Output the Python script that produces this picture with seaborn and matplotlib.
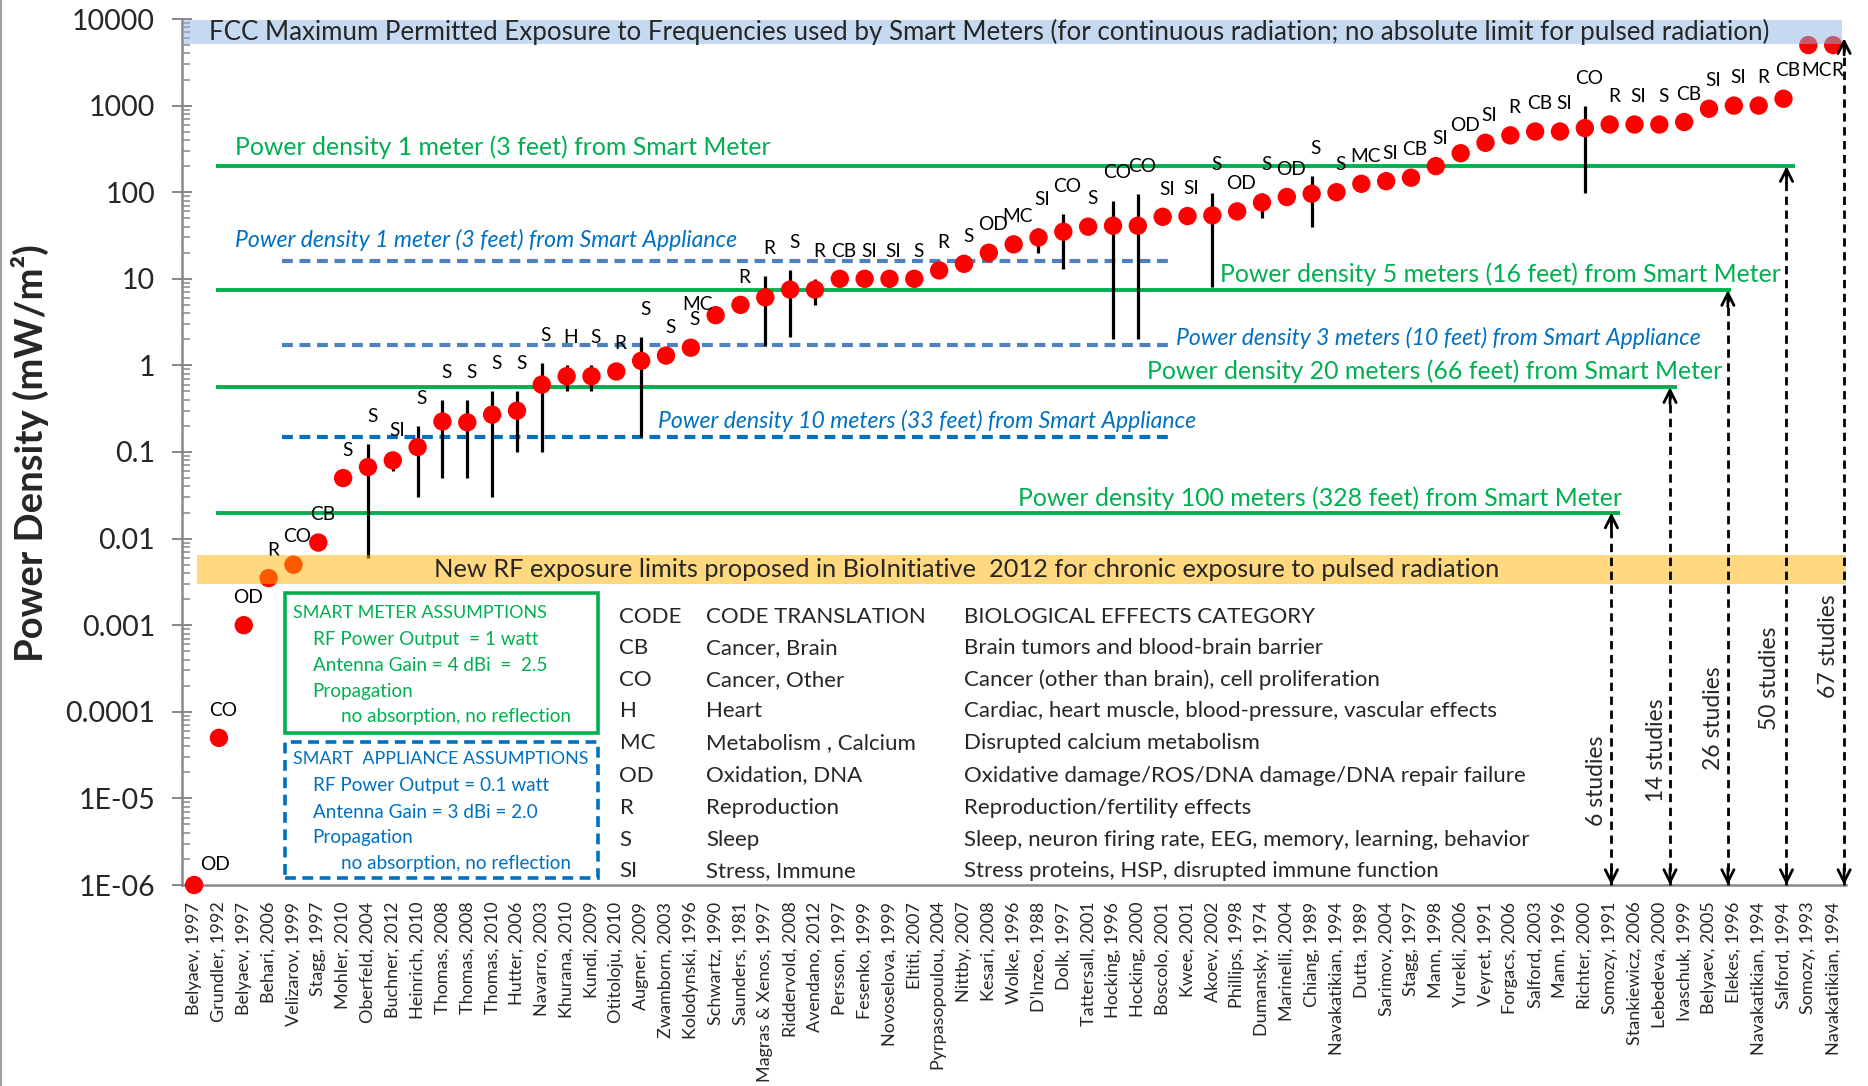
import numpy as np
import pandas as pd
import matplotlib
matplotlib.use("Agg")
import matplotlib.pyplot as plt
import seaborn as sns
from matplotlib.lines import Line2D
from matplotlib.patches import Rectangle
from matplotlib.ticker import FixedLocator, FixedFormatter, LogLocator, NullFormatter

# ---------------- data ----------------
studies = ["Belyaev, 1997", "Grundler, 1992", "Belyaev, 1997", "Behari, 2006", "Velizarov, 1999",
           "Stagg, 1997", "Mohler, 2010", "Oberfeld, 2004", "Buchner, 2012", "Heinrich, 2010",
           "Thomas, 2008", "Thomas, 2008", "Thomas, 2010", "Hutter, 2006", "Navarro, 2003",
           "Khurana, 2010", "Kundi, 2009", "Otitoloju, 2010", "Augner, 2009", "Zwamborn, 2003",
           "Kolodynski, 1996", "Schwartz, 1990", "Saunders, 1981", "Magras & Xenos, 1997",
           "Riddervold, 2008", "Avendano, 2012", "Persson, 1997", "Fesenko, 1999",
           "Novoselova, 1999", "Eltiti, 2007", "Pyrpasopoulou, 2004", "Nittby, 2007",
           "Kesari, 2008", "Wolke, 1996", "D'Inzeo, 1988", "Dolk, 1997", "Tattersall, 2001",
           "Hocking, 1996", "Hocking, 2000", "Boscolo, 2001", "Kwee, 2001", "Akoev, 2002",
           "Phillips, 1998", "Dumansky, 1974", "Marinelli, 2004", "Chiang, 1989",
           "Navakatikian, 1994", "Dutta, 1989", "Sarimov, 2004", "Stagg, 1997", "Mann, 1998",
           "Yurekli, 2006", "Veyret, 1991", "Forgacs, 2006", "Salford, 2003", "Mann, 1996",
           "Richter, 2000", "Somozy, 1991", "Stankiewicz, 2006", "Lebedeva, 2000",
           "Ivaschuk, 1999", "Belyaev, 2005", "Elekes, 1996", "Navakatikian, 1994",
           "Salford, 1994", "Somozy, 1993", "Navakatikian, 1994"]

codes = ["OD", "CO", "OD", "R", "CO", "CB", "S", "S", "SI", "S",
         "S", "S", "S", "S", "S", "H", "S", "R", "S", "S",
         "S", "MC", "R", "R", "S", "R", "CB", "SI", "SI", "S",
         "R", "S", "OD", "MC", "SI", "CO", "S", "CO", "CO", "SI",
         "SI", "S", "OD", "S", "OD", "S", "S", "MC", "SI", "CB",
         "SI", "OD", "SI", "R", "CB", "SI", "CO", "R", "SI", "S",
         "CB", "SI", "SI", "R", "CB", "MC", "R"]

power_density = [1e-6, 5e-5, 0.001, 0.0035, 0.005, 0.009, 0.05, 0.067, 0.08, 0.114,
                 0.225, 0.22, 0.27, 0.30, 0.6, 0.75, 0.75, 0.85, 1.13, 1.3,
                 1.6, 3.8, 5.0, 6.1, 7.5, 7.5, 10, 10, 10, 10,
                 12.5, 14.9, 20, 25, 30, 35, 40, 41, 41, 52,
                 53, 54, 60, 76, 88, 96, 100, 125, 134, 147,
                 200, 282, 372, 453, 502, 502, 550, 605, 605, 605,
                 646, 920, 1000, 1000, 1200, 5000, 5000]

bar_index = [7, 8, 9, 10, 11, 12, 13, 14, 15, 16, 18, 23, 24, 25, 34, 35, 37, 38, 41, 43, 45, 56]
bar_low = [0.006, 0.06, 0.03, 0.05, 0.05, 0.03, 0.1, 0.1, 0.5, 0.5, 0.15, 1.67, 2.1, 5.0,
           20, 13, 2.0, 2.0, 8, 51, 40, 98]
bar_high = [0.124, 0.085, 0.2, 0.4, 0.4, 0.5, 0.5, 1.07, 1.0, 1.0, 2.1, 10.7, 12.7, 10,
            39, 56, 80, 95, 99, 99, 152, 980]

meter_levels = [200, 7.4, 0.56, 0.02]
meter_labels = ["Power density 1 meter (3 feet) from Smart Meter",
                "Power density 5 meters (16 feet) from Smart Meter",
                "Power density 20 meters (66 feet) from Smart Meter",
                "Power density 100 meters (328 feet) from Smart Meter"]
appliance_levels = [16, 1.7, 0.15]
appliance_labels = ["Power density 1 meter (3 feet) from Smart Appliance",
                    "Power density 3 meters (10 feet) from Smart Appliance",
                    "Power density 10 meters (33 feet) from Smart Appliance"]

arrow_tops = [0.02, 0.56, 7.4, 200, 6000]
arrow_labels = ["6 studies", "14 studies", "26 studies", "50 studies", "67 studies"]

fcc_band = [5190, 9640]
bio_band = [0.0030, 0.0064]

ytick_values = [1e-6, 1e-5, 1e-4, 1e-3, 1e-2, 1e-1, 1, 10, 100, 1000, 10000]
ytick_labels = ["1E-06", "1E-05", "0.0001", "0.001", "0.01", "0.1", "1", "10", "100", "1000", "10000"]

table_codes = ["CODE", "CB", "CO", "H", "MC", "OD", "R", "S", "SI"]
table_translation = ["CODE TRANSLATION", "Cancer, Brain", "Cancer, Other", "Heart",
                     "Metabolism , Calcium", "Oxidation, DNA", "Reproduction", "Sleep",
                     "Stress, Immune"]
table_effects = ["BIOLOGICAL EFFECTS CATEGORY",
                 "Brain tumors and blood-brain barrier",
                 "Cancer (other than brain), cell proliferation",
                 "Cardiac, heart muscle, blood-pressure, vascular effects",
                 "Disrupted calcium metabolism",
                 "Oxidative damage/ROS/DNA damage/DNA repair failure",
                 "Reproduction/fertility effects",
                 "Sleep, neuron firing rate, EEG, memory, learning, behavior",
                 "Stress proteins, HSP, disrupted immune function"]

meter_box = ["SMART METER ASSUMPTIONS", "RF Power Output  = 1 watt",
             "Antenna Gain = 4 dBi  =  2.5", "Propagation", "no absorption, no reflection"]
appliance_box = ["SMART  APPLIANCE ASSUMPTIONS", "RF Power Output = 0.1 watt",
                 "Antenna Gain = 3 dBi = 2.0", "Propagation", "no absorption, no reflection"]

# ---------------- style ----------------
sns.set_style("white")
plt.rcParams['font.family'] = ['Lato', 'DejaVu Sans']

GREEN = "#00b050"
BLUE = "#0070c0"
BLUE2 = "#4f81bd"
GRAY = "#888888"

W, H, DPI = 1868, 1086, 100
fig = plt.figure(figsize=(W / DPI, H / DPI), dpi=DPI)
ax = fig.add_axes([181.7 / W, 1 - 885 / H, (1845.6 - 181.7) / W, (885 - 19) / H])


def fx(px):
    return px / W


def fy(py):
    return 1 - py / H


df = pd.DataFrame({"idx": np.arange(len(studies)), "pd": power_density, "code": codes})

ax.set_yscale("log")
ax.set_ylim(1e-6, 1e4)
ax.set_xlim(-0.5, 66.5)

# error bars
ax.vlines(bar_index, bar_low, bar_high, color="black", lw=2.3, zorder=3)

# dots
sns.scatterplot(data=df, x="idx", y="pd", color="red", s=175, edgecolor="none",
                ax=ax, zorder=4, clip_on=False, legend=False)

# code labels
top_of = dict(zip(range(len(studies)), power_density))
for i, hi in zip(bar_index, bar_high):
    top_of[i] = max(top_of[i], hi)
special = {0: (15, 15), 21: (-13, 8), 65: (6, -18), 66: (3, -18)}
for i, c in enumerate(codes):
    dx, dy = special.get(i, (3, 20))
    ax.annotate(c, (i, top_of[i]), xytext=(dx, dy), textcoords="offset points",
                ha="center", va="center", fontsize=13.8, color="black", zorder=4,
                annotation_clip=False)

# reference lines: smart meter (green solid)
meter_x0 = 0.9
meter_x1 = [64.45, 61.9, 59.7, 57.4]
for lvl, x1 in zip(meter_levels, meter_x1):
    ax.hlines(lvl, meter_x0, x1, color=GREEN, lw=2.8, zorder=2)

# smart appliance (blue dashed)
app_x0 = 3.55
app_x1 = [39.2, 39.2, 39.4]
app_col = [BLUE2, BLUE2, BLUE]
for lvl, x1, col in zip(appliance_levels, app_x1, app_col):
    ax.hlines(lvl, app_x0, x1, color=col, lw=3.0, linestyles=(0, (2.6, 1.6)), zorder=2)

# bands (translucent, on top of dots)
ax.fill_between([-0.45, 66.35], fcc_band[0], fcc_band[1], color="#8db4e2", alpha=0.5,
                lw=0, zorder=5)
ax.fill_between([0.12, 66.5], bio_band[0], bio_band[1], color="#ffb300", alpha=0.5,
                lw=0, zorder=5)
ax.text(32.0, np.sqrt(fcc_band[0] * fcc_band[1]),
        "FCC Maximum Permitted Exposure to Frequencies used by Smart Meters (for continuous radiation; no absolute limit for pulsed radiation)",
        ha="center", va="center", fontsize=18.6, zorder=6)
ax.text(31.1, np.sqrt(bio_band[0] * bio_band[1]),
        "New RF exposure limits proposed in BioInitiative  2012 for chronic exposure to pulsed radiation",
        ha="center", va="center", fontsize=18.3, zorder=6)

# dashed double arrows
arrow_x = [57.07, 59.43, 61.76, 64.12, 66.44]
for x, top in zip(arrow_x, arrow_tops):
    ax.vlines(x, 1e-6, top, color="black", lw=2.0, linestyles=(0, (3, 2)), zorder=6,
              clip_on=False)
    for yy, sgn in ((top, -1), (1e-6, 1)):
        ax.annotate("", xy=(x, yy), xytext=(0, 12 * sgn), textcoords="offset points",
                    arrowprops=dict(arrowstyle="->", color="black", lw=2.0,
                                    mutation_scale=22, shrinkA=0, shrinkB=0),
                    zorder=6, annotation_clip=False)

# ticks and axes
ax.yaxis.set_major_locator(FixedLocator(ytick_values))
ax.yaxis.set_major_formatter(FixedFormatter(ytick_labels))
ax.yaxis.set_minor_locator(LogLocator(base=10, subs=np.arange(2, 10), numticks=20))
ax.yaxis.set_minor_formatter(NullFormatter())
ax.tick_params(axis="y", which="major", direction="inout", length=14.4, width=1.4,
               color=GRAY, labelsize=20.5, pad=12, left=True)
ax.tick_params(axis="y", which="minor", direction="in", length=6, width=1.1,
               color=GRAY, left=True)
ax.set_xticks(np.arange(len(studies)))
ax.set_xticklabels(studies, rotation=90, ha="center", va="top")
ax.tick_params(axis="x", length=0, pad=12, labelsize=13)
ax.set_xlabel("")
ax.set_ylabel("")
for s in ["top", "right"]:
    ax.spines[s].set_visible(False)
for s in ["left", "bottom"]:
    ax.spines[s].set_color(GRAY)
    ax.spines[s].set_linewidth(1.8)
ax.grid(False)

# y label
fig.text(fx(30), fy(453), "Power Density (mW/m²)", rotation=90, fontsize=27.5,
         fontweight="bold", ha="center", va="center")

# line labels
meter_label_pos = [(234.7, 147.7), (1220, 274), (1147, 371.7), (1018.5, 498)]
for txt, (px, py) in zip(meter_labels, meter_label_pos):
    fig.text(fx(px), fy(py), txt, color=GREEN, fontsize=17.9, ha="left", va="center")
app_label_pos = [(234.7, 239.5), (1176, 338.3), (657.6, 420.5)]
for txt, (px, py) in zip(appliance_labels, app_label_pos):
    fig.text(fx(px), fy(py), txt, color=BLUE, fontsize=16.6, style="italic",
             ha="left", va="center")

# arrow labels
arrow_label_pos = [(1596.7, 781), (1656.7, 750), (1714, 718), (1769.3, 678), (1828.3, 646)]
for txt, (px, py) in zip(arrow_labels, arrow_label_pos):
    fig.text(fx(px), fy(py), txt, rotation=90, fontsize=16.5, ha="center", va="center")

# code table
row_y = [617.1, 648.1, 680.2, 711.2, 743.4, 775.5, 807.7, 839.9, 870.9]
for yy, a, b, c in zip(row_y, table_codes, table_translation, table_effects):
    fig.text(fx(619.5), fy(yy), a, fontsize=16, ha="left", va="center")
    fig.text(fx(706.5), fy(yy), b, fontsize=16, ha="left", va="center")
    fig.text(fx(963.7), fy(yy), c, fontsize=16, ha="left", va="center")

# assumption boxes
fig.add_artist(Rectangle((fx(285), fy(733.3)), (597.7 - 285) / W, (733.3 - 593.3) / H,
                         transform=fig.transFigure, fill=False, edgecolor=GREEN, lw=2.6))
fig.add_artist(Rectangle((fx(285), fy(878.3)), (597.7 - 285) / W, (878.3 - 741.7) / H,
                         transform=fig.transFigure, fill=False, edgecolor=BLUE, lw=2.6,
                         linestyle=(0, (3, 1.8))))
box_x = [293.3, 312.7, 312.7, 312.7, 340.7]
box_size = [12.9, 13.6, 13.6, 13.6, 13.6]
meter_box_y = [613.3, 639, 665.7, 691.7, 716.7]
app_box_y = [759.3, 785.7, 812.7, 837.7, 863.3]
for t, px, py, fs in zip(meter_box, box_x, meter_box_y, box_size):
    fig.text(fx(px), fy(py), t, color=GREEN, fontsize=fs, ha="left", va="center")
for t, px, py, fs in zip(appliance_box, box_x, app_box_y, box_size):
    fig.text(fx(px), fy(py), t, color=BLUE, fontsize=fs, ha="left", va="center")

# left border line of the original picture
fig.add_artist(Line2D([fx(1.2), fx(1.2)], [0, 1], transform=fig.transFigure,
                      color="#a0a0a0", lw=1.5))

fig.savefig("out.png", dpi=DPI)
